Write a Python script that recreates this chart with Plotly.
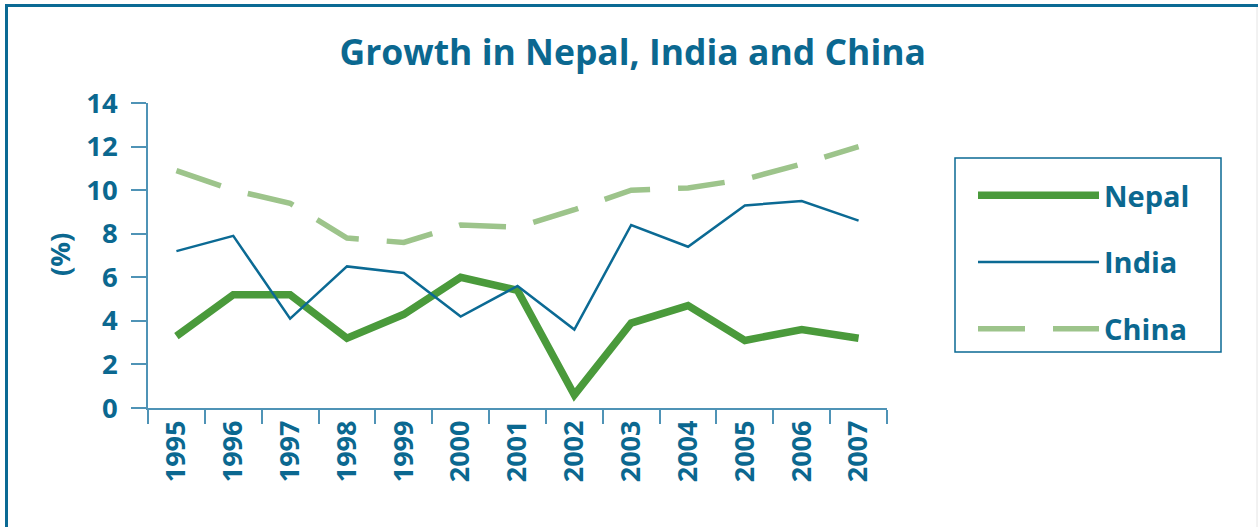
import plotly.graph_objects as go

years = ["1995", "1996", "1997", "1998", "1999", "2000", "2001",
         "2002", "2003", "2004", "2005", "2006", "2007"]
nepal = [3.3, 5.2, 5.2, 3.2, 4.3, 6.0, 5.4, 0.6, 3.9, 4.7, 3.1, 3.6, 3.2]
india = [7.2, 7.9, 4.1, 6.5, 6.2, 4.2, 5.6, 3.6, 8.4, 7.4, 9.3, 9.5, 8.6]
china = [10.9, 10.0, 9.4, 7.8, 7.6, 8.4, 8.3, 9.1, 10.0, 10.1, 10.5, 11.2, 12.0]
y_ticks = [0, 2, 4, 6, 8, 10, 12, 14]

TXT = "#0b6890"
AX = "#4f93b6"
FONT = "Open Sans"

W, H = 1258, 527
L, R, T, B = 148, 887, 103, 408  # plot area in px


def px_x(x):
    return (x - L) / (R - L)


def px_y(y):
    return (B - y) / (B - T)


fig = go.Figure()
fig.add_trace(go.Scatter(x=years, y=nepal, name="Nepal", mode="lines",
                         legendgroup="a",
                         line=dict(color="#4a9a3b", width=7.5)))
fig.add_trace(go.Scatter(x=years, y=india, name="India", mode="lines",
                         legendgroup="b",
                         line=dict(color="#0b6a94", width=2.5)))
fig.add_trace(go.Scatter(x=years, y=china, name="China", mode="lines",
                         legendgroup="c",
                         line=dict(color="#9dc48b", width=5.5, dash="47px,28px")))

fig.update_layout(
    width=W, height=H,
    margin=dict(l=L, r=W - R, t=T, b=H - B),
    paper_bgcolor="white", plot_bgcolor="white",
    font=dict(family=FONT, color=TXT, size=28, weight=700),
    title=dict(text="Growth in Nepal, India and China",
               x=0.503, xref="container", xanchor="center",
               y=1 - 53 / H, yref="container", yanchor="middle",
               font=dict(family=FONT, size=35.5, color=TXT, weight=700)),
    xaxis=dict(type="category", range=[-0.5, 12.5], tickson="boundaries",
               ticks="outside", ticklen=14, tickwidth=1.5, tickcolor=AX,
               showline=True, linecolor=AX, linewidth=1.5,
               showgrid=False, zeroline=False, tickangle=-90,
               tickfont=dict(family=FONT, size=27, color=TXT, weight=700)),
    yaxis=dict(range=[0, 14], tickvals=y_ticks,
               ticks="outside", ticklen=15, tickwidth=1.5, tickcolor=AX,
               showline=True, linecolor=AX, linewidth=1.5,
               showgrid=False, zeroline=False, ticklabelstandoff=8,
               tickfont=dict(family=FONT, size=27.5, color=TXT, weight=700)),
    showlegend=True,
    legend=dict(x=px_x(973), y=px_y(170), xanchor="left", yanchor="top",
                bgcolor="rgba(0,0,0,0)", borderwidth=0,
                itemwidth=121, tracegroupgap=26,
                font=dict(family=FONT, size=29, color=TXT, weight=700)),
    annotations=[dict(text="(%)", textangle=-90, x=px_x(59), y=px_y(255),
                      xref="paper", yref="paper", showarrow=False,
                      xanchor="center", yanchor="middle",
                      font=dict(family=FONT, size=27.5, color=TXT, weight=700))],
    shapes=[
        dict(type="rect", xref="paper", yref="paper",
             x0=px_x(955), x1=px_x(1221), y0=px_y(158), y1=px_y(352),
             line=dict(color="#0b6a94", width=1.5)),
        dict(type="line", xref="paper", yref="paper",
             x0=px_x(6.5), x1=px_x(6.5), y0=px_y(4), y1=px_y(540),
             line=dict(color="#0b6a94", width=3)),
        dict(type="line", xref="paper", yref="paper",
             x0=px_x(5), x1=px_x(1260), y0=px_y(5.5), y1=px_y(5.5),
             line=dict(color="#0b6a94", width=3)),
        dict(type="line", xref="paper", yref="paper",
             x0=px_x(1257), x1=px_x(1257), y0=px_y(7), y1=px_y(540),
             line=dict(color="#e4e4e4", width=1)),
    ],
)

fig.write_html("out.html")
